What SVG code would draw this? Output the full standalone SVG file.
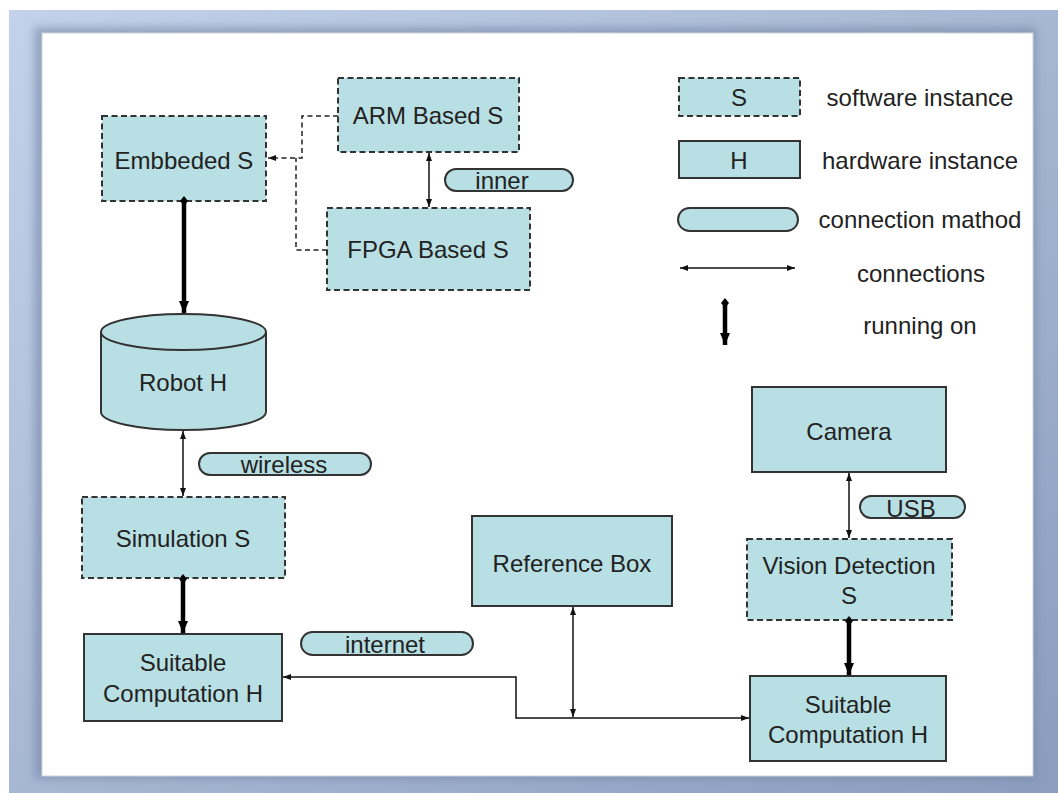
<svg xmlns="http://www.w3.org/2000/svg" width="1058" height="793" viewBox="0 0 1058 793">
<defs>
<linearGradient id="frame" x1="0" y1="0" x2="1" y2="1">
<stop offset="0" stop-color="#c3d2ea"/>
<stop offset="1" stop-color="#8a9dbd"/>
</linearGradient>
<filter id="blur" x="-5%" y="-5%" width="110%" height="110%"><feGaussianBlur stdDeviation="4"/></filter>
<marker id="ta" viewBox="0 0 8 6" refX="8" refY="3" markerWidth="8" markerHeight="6" markerUnits="userSpaceOnUse" orient="auto-start-reverse"><path d="M0,0 L8,3 L0,6 Z" fill="#111"/></marker>
<marker id="tk" viewBox="0 0 12 10" refX="12" refY="5" markerWidth="12" markerHeight="10" markerUnits="userSpaceOnUse" orient="auto"><path d="M0,0 L12,5 L0,10 Z" fill="#000"/></marker>
<marker id="dm" viewBox="0 0 10 10" refX="5" refY="5" markerWidth="10" markerHeight="10" markerUnits="userSpaceOnUse" orient="auto"><path d="M0,5 L5,1 L10,5 L5,9 Z" fill="#000"/></marker>
</defs>
<style>
.box{fill:#b8dfe3;stroke:#333;stroke-width:2}
.sw{stroke-dasharray:6 3.5}
.t{font-family:"Liberation Sans",Arial,sans-serif;font-size:24px;fill:#222;text-anchor:middle}
.thin{fill:none;stroke:#111;stroke-width:1.5}
.dash{fill:none;stroke:#222;stroke-width:1.5;stroke-dasharray:5 3.5}
.thick{fill:none;stroke:#000;stroke-width:4.5}
</style>
<rect x="0" y="0" width="1058" height="793" fill="#fff"/>
<rect x="9" y="10" width="1049" height="783" fill="url(#frame)"/>
<rect x="34" y="27" width="1002" height="752" fill="#6f82a3" opacity="0.55" filter="url(#blur)"/>
<rect x="42" y="33" width="991" height="743" fill="#fff" stroke="#cfd3da" stroke-width="1"/>

<g id="embbeded"><rect class="box sw" x="102" y="116" width="164" height="85"/><text class="t" x="184" y="169">Embbeded S</text></g>
<g id="arm"><rect class="box sw" x="338" y="78" width="181" height="74"/><text class="t" x="428" y="124">ARM Based S</text></g>
<g id="fpga"><rect class="box sw" x="327" y="208" width="203" height="82"/><text class="t" x="428" y="258">FPGA Based S</text></g>
<g id="inner"><rect class="box" x="445" y="169" width="128" height="22" rx="11"/><text class="t" x="502" y="189">inner</text></g>
<g id="robot"><path class="box" d="M101,332 A82.5,18 0 0 1 266,332 L266,412 A82.5,18 0 0 1 101,412 Z"/><path class="box" style="fill:none" d="M101,332 A82.5,18 0 0 0 266,332"/><text class="t" x="183" y="391">Robot H</text></g>
<g id="wireless"><rect class="box" x="199" y="453" width="172" height="22" rx="11"/><text class="t" x="284" y="473">wireless</text></g>
<g id="simulation"><rect class="box sw" x="82" y="497" width="203" height="81"/><text class="t" x="183" y="547">Simulation S</text></g>
<g id="suitable-left"><rect class="box" x="84" y="634" width="198" height="87"/><text class="t" x="183" y="671">Suitable</text><text class="t" x="183" y="702">Computation H</text></g>
<g id="internet"><rect class="box" x="301" y="632" width="172" height="23" rx="11.5"/><text class="t" x="385" y="653">internet</text></g>
<g id="reference"><rect class="box" x="472" y="516" width="200" height="90"/><text class="t" x="572" y="572">Reference Box</text></g>
<g id="camera"><rect class="box" x="752" y="387" width="194" height="85"/><text class="t" x="849" y="440">Camera</text></g>
<g id="usb"><rect class="box" x="860" y="496" width="105" height="22" rx="11"/><text class="t" x="911" y="517">USB</text></g>
<g id="vision"><rect class="box sw" x="747" y="539" width="205" height="81"/><text class="t" x="849" y="574">Vision Detection</text><text class="t" x="849" y="604">S</text></g>
<g id="suitable-right"><rect class="box" x="750" y="676" width="196" height="85"/><text class="t" x="848" y="713">Suitable</text><text class="t" x="848" y="743">Computation H</text></g>

<g id="connectors">
<path class="dash" d="M338,116 H302 V158 H268" marker-end="url(#ta)"/>
<path class="dash" d="M327,250 H296 V158"/>
<path class="thin" d="M429,153 V207" marker-start="url(#ta)" marker-end="url(#ta)"/>
<path class="thick" d="M184,201 V313" marker-start="url(#dm)" marker-end="url(#tk)"/>
<path class="thin" d="M183,431 V496" marker-start="url(#ta)" marker-end="url(#ta)"/>
<path class="thick" d="M183,579 V633" marker-start="url(#dm)" marker-end="url(#tk)"/>
<path class="thin" d="M283,677 H516 V718 H749" marker-start="url(#ta)" marker-end="url(#ta)"/>
<path class="thin" d="M573,607 V717" marker-start="url(#ta)" marker-end="url(#ta)"/>
<path class="thin" d="M849,473 V538" marker-start="url(#ta)" marker-end="url(#ta)"/>
<path class="thick" d="M849,621 V675" marker-start="url(#dm)" marker-end="url(#tk)"/>
</g>

<g id="legend">
<rect class="box sw" x="679" y="78" width="121" height="38"/><text class="t" x="739" y="106">S</text>
<text class="t" x="920" y="106">software instance</text>
<rect class="box" x="679" y="141" width="121" height="37"/><text class="t" x="739" y="169">H</text>
<text class="t" x="920" y="169">hardware instance</text>
<rect class="box" x="678" y="208" width="120" height="23" rx="11.5"/>
<text class="t" x="920" y="228">connection mathod</text>
<path class="thin" d="M680,268 H795" marker-start="url(#ta)" marker-end="url(#ta)"/>
<text class="t" x="921" y="282">connections</text>
<path class="thick" d="M725,303 V345" marker-start="url(#dm)" marker-end="url(#tk)"/>
<text class="t" x="920" y="334">running on</text>
</g>
</svg>
